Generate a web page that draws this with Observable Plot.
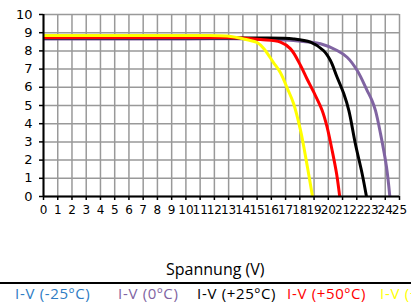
<!DOCTYPE html>
<html><head><meta charset="utf-8">
<script src="https://cdn.jsdelivr.net/npm/d3@7"></script>
<script src="https://cdn.jsdelivr.net/npm/@observablehq/plot@0.6"></script>
<style>
body{margin:0;background:#fff;}
#wrap{position:relative;width:411px;height:302px;overflow:hidden;}
#wrap svg{position:absolute;left:0;top:0;}
.t{position:absolute;font-family:"Open Sans",sans-serif;white-space:nowrap;}
#xl{left:166px;top:258px;font-size:16px;color:#000;}
#rule{position:absolute;left:0;top:282px;width:411px;height:2px;background:#000;}
.lg{top:283px;font-size:15px;letter-spacing:0.7px;}
</style></head><body>
<div id="wrap"></div>
<script>
const seriesNames = ["I-V (-25ºC)", "I-V (0ºC)", "I-V (+25ºC)", "I-V (+50ºC)", "I-V (+75ºC)"];
const seriesColors = ["#2e7cc4", "#8064a2", "#000000", "#ff0000", "#ffff00"];
const xTicks = d3.range(0, 26);
const yTicks = d3.range(0, 11);

// -25ºC: not visible inside the plotted range
const vM25 = [];
const iM25 = [];
const v0 = [0, 5, 10, 15, 17.56, 19.45, 20.62, 21.32, 22.03, 22.73, 23.07, 23.31, 23.67, 24.09, 24.32];
const i0 = [8.66, 8.66, 8.66, 8.66, 8.57, 8.39, 8.02, 7.65, 6.92, 5.82, 5.27, 4.73, 3.44, 1.61, 0];
const v25 = [0, 5, 10, 15, 17.56, 18.75, 19.66, 20.15, 20.62, 21.09, 21.44, 21.9, 22.38, 22.68];
const i25 = [8.71, 8.71, 8.71, 8.71, 8.66, 8.48, 8.02, 7.47, 6.55, 5.64, 4.73, 2.9, 1.24, 0];
const v50 = [0, 5, 10, 13, 15.24, 16.64, 17.35, 18.05, 18.5, 18.98, 19.57, 19.92, 20.27, 20.58, 20.8];
const i50 = [8.74, 8.74, 8.74, 8.73, 8.62, 8.48, 8.11, 7.2, 6.47, 5.73, 4.73, 3.8, 2.53, 1.26, 0];
const v75 = [0, 5, 10, 12.9, 14.3, 15.0, 15.45, 16.15, 16.64, 17.13, 17.56, 18.05, 18.54, 18.89];
const i75 = [8.84, 8.84, 8.84, 8.82, 8.61, 8.46, 8.15, 7.36, 6.8, 5.93, 5.11, 3.63, 1.59, 0];

const vs = [vM25, v0, v25, v50, v75];
const is = [iM25, i0, i25, i50, i75];
const data = [];
vs.forEach((v, k) => v.forEach((x, j) => data.push({s: seriesNames[k], V: x, I: is[k][j]})));

const lineMarks = seriesNames.map((n, k) =>
  Plot.line(data.filter(d => d.s === n), {x: "V", y: "I", stroke: seriesColors[k], strokeWidth: 3, curve: "catmull-rom", clip: true}));

const chart = Plot.plot({
  width: 411, height: 230,
  marginTop: 14, marginLeft: 43, marginRight: 12, marginBottom: 34,
  style: {fontFamily: "'DejaVu Sans', sans-serif", fontSize: "12px", color: "#000", background: "#fff"},
  x: {domain: [0, 25], label: null},
  y: {domain: [0, 10], label: null},
  marks: [
    Plot.gridX(xTicks, {stroke: "#999", strokeOpacity: 1, strokeWidth: 1.5}),
    Plot.gridY(yTicks, {stroke: "#999", strokeOpacity: 1, strokeWidth: 1.5}),
    Plot.axisX(xTicks, {tickSize: 4, tickPadding: 5, tickFormat: d => d, stroke: "#000", strokeWidth: 1.5, fill: "#000", fontSize: 12, fontFamily: "'DejaVu Sans', sans-serif", label: null}),
    Plot.axisY(yTicks, {tickSize: 4, tickPadding: 7, tickFormat: d => d, stroke: "#000", strokeWidth: 1.5, fill: "#000", fontSize: 13, fontFamily: "'DejaVu Sans', sans-serif", label: null}),
    ...lineMarks,
    Plot.ruleX([0], {stroke: "#000", strokeWidth: 2}),
    Plot.ruleY([0], {stroke: "#000", strokeWidth: 2})
  ]
});
const wrap = document.getElementById("wrap");
wrap.appendChild(chart);

const xl = document.createElement("div");
xl.className = "t"; xl.id = "xl"; xl.textContent = "Spannung (V)";
wrap.appendChild(xl);
const rule = document.createElement("div");
rule.id = "rule";
wrap.appendChild(rule);
const legendX = [15, 118, 197, 287, 380];
seriesNames.forEach((n, k) => {
  const s = document.createElement("div");
  s.className = "t lg";
  s.style.left = legendX[k] + "px";
  s.style.color = seriesColors[k];
  s.textContent = n;
  wrap.appendChild(s);
});
</script>
</body></html>
